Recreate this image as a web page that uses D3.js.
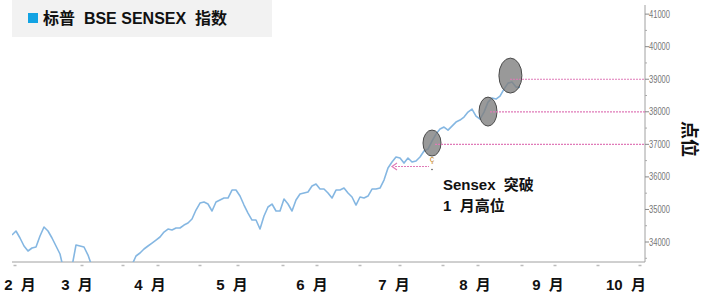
<!DOCTYPE html>
<html><head><meta charset="utf-8">
<script src="https://cdn.jsdelivr.net/npm/d3@7"></script>
<style>
body{margin:0;background:#fff;}
svg{display:block;font-family:"Liberation Sans",Arial,"Noto Sans CJK SC",sans-serif;}
text{white-space:pre;}
</style></head>
<body>
<svg id="c" width="710" height="292"></svg>
<script>
// ---- data ----
const title = "标普  BSE SENSEX  指数";
// Sensex daily close (index = trading-day step)
const sensex = [34215,34338,34123,33877,33724,33816,33847,34184,34460,34338,
34123,33877,33632,33100,33000,33250,33908,33877,33847,33600,
33250,33050,32950,33120,32900,32650,33050,33180,32980,33260,
33300,33570,33662,33785,33877,33969,34061,34154,34307,34399,
34368,34430,34430,34522,34583,34706,34982,35197,35228,35167,
34952,35228,35289,35350,35350,35596,35596,35412,35136,34890,
34675,34675,34399,34798,35075,35167,34952,34952,35320,35167,
34952,35289,35474,35504,35535,35719,35781,35627,35627,35504,
35351,35596,35596,35658,35504,35382,35136,35382,35351,35412,
35627,35627,35658,35903,36272,36456,36610,36579,36425,36579,
36456,36487,36610,36794,36855,37101,37316,37469,37531,37438,
37561,37684,37745,37838,37991,38083,37868,37776,37991,38298,
38421,38390,38482,38697,38881,38912,38759,38759];
const monthLabels = ["2  月","3  月","4  月","5  月","6  月","7  月","8  月","9  月","10  月"];
const monthPos = [2,16.25,34.5,55,75,95.5,115.75,134,153.5];
const xMinorTicks = [0.75,17.5,27.75,36.5,47,56.5,67.75,76.25,87,97,107.75,116.5,127.5,135.75,146.5,157];
const yTicks = [34000,35000,36000,37000,38000,39000,40000,41000];
const yMinor = [33500,34500,35500,36500,37500,38500,39500,40500];
// highlighted breakouts: [index, value] of circle centre, and level line
const circles = [[105,37040],[119,38006],[124.6,39112]];
const levels = [[105.75,37000],[119.5,38000],[124.5,39000]];
const prevHigh = [[95,36320],[105,36320]];
const annotation = ["Sensex  突破","1  月高位"];

// ---- scales ----
const svg = d3.select("#c");
const x = d3.scaleLinear().domain([0,158.25]).range([12,645]);
const y = d3.scaleLinear().domain([33386,41280]).range([262,5]);

// title box
svg.append("rect").attr("x",12).attr("y",0).attr("width",260).attr("height",37).attr("fill","#f2f2f2");
svg.append("rect").attr("x",28).attr("y",13).attr("width",10).attr("height",10).attr("fill","#12a3e3");
svg.append("text").attr("x",43).attr("y",24).attr("font-size",16).attr("font-weight","bold").attr("fill","#111").text(title);

// clip
svg.append("clipPath").attr("id","clip").append("rect").attr("x",12).attr("y",0).attr("width",633).attr("height",262);

// x axis line
svg.append("line").attr("x1",12).attr("x2",645).attr("y1",262).attr("y2",262).attr("stroke","#a0a0a0").attr("stroke-width",1);
svg.selectAll(".xm").data(xMinorTicks).enter().append("line")
  .attr("x1",d=>x(d)-1.5).attr("x2",d=>x(d)+1.5).attr("y1",265.5).attr("y2",265.5)
  .attr("stroke","#bbb").attr("stroke-width",1.5);

// y axis
svg.append("line").attr("x1",645).attr("x2",645).attr("y1",5).attr("y2",262).attr("stroke","#a0a0a0");
svg.selectAll(".yt").data(yTicks).enter().append("line")
  .attr("x1",645).attr("x2",649).attr("y1",d=>y(d)).attr("y2",d=>y(d)).attr("stroke","#888");
svg.selectAll(".ym").data(yMinor).enter().append("line")
  .attr("x1",645).attr("x2",647).attr("y1",d=>y(d)).attr("y2",d=>y(d)).attr("stroke","#aaa");
svg.selectAll(".yl").data(yTicks).enter().append("text")
  .attr("x",649).attr("y",d=>y(d)+3.5).attr("font-size",10.5).attr("fill","#777")
  .attr("textLength",21).attr("lengthAdjust","spacingAndGlyphs").text(d=>d);

// y axis title rotated
svg.append("text").attr("transform","translate(683,139) rotate(90)")
  .attr("text-anchor","middle").attr("font-size",18).attr("font-weight","bold").attr("fill","#111").text("点位");

// month labels
svg.selectAll(".ml").data(monthLabels).enter().append("text")
  .attr("x",(d,i)=>x(monthPos[i])).attr("y",290).attr("text-anchor","middle")
  .attr("font-size",15).attr("font-weight","bold").attr("fill","#111").text(d=>d);

// line
const line = d3.line().x((d,i)=>x(i)).y(d=>y(d));
svg.append("path").datum(sensex).attr("clip-path","url(#clip)")
  .attr("d",line).attr("fill","none").attr("stroke","#85b7e2").attr("stroke-width",1.6).attr("stroke-linejoin","round");

// ellipses
const rxs=[9,9,11.5], rys=[13,14.5,17.5];
svg.selectAll(".el").data(circles).enter().append("ellipse")
  .attr("cx",d=>x(d[0])).attr("cy",d=>y(d[1])).attr("rx",(d,i)=>rxs[i]).attr("ry",(d,i)=>rys[i])
  .attr("fill","#808080").attr("fill-opacity",0.8).attr("stroke","#4a4a4a").attr("stroke-width",1);

// level lines
svg.selectAll(".lv").data(levels).enter().append("line")
  .attr("x1",d=>x(d[0])).attr("x2",645).attr("y1",d=>y(d[1])).attr("y2",d=>y(d[1]))
  .attr("stroke","#e07ab8").attr("stroke-width",1.2).attr("stroke-dasharray","2,1");

// previous-high arrow
svg.append("line").attr("x1",x(prevHigh[0][0])+3).attr("x2",x(prevHigh[1][0])-3)
  .attr("y1",y(prevHigh[0][1])).attr("y2",y(prevHigh[1][1]))
  .attr("stroke","#e07ab8").attr("stroke-width",1.2).attr("stroke-dasharray","2,1");
const ax=x(prevHigh[0][0]), ay=y(prevHigh[0][1]);
svg.append("path").attr("d",`M${ax+5},${ay-3.5} L${ax},${ay} L${ax+5},${ay+3.5}`)
  .attr("fill","none").attr("stroke","#e07ab8").attr("stroke-width",1.2);
// small marker
svg.append("text").attr("x",x(prevHigh[1][0])).attr("y",y(prevHigh[1][1])-4).attr("text-anchor","middle")
  .attr("font-size",9).attr("fill","#c98a2a").text("ç");
svg.append("circle").attr("cx",x(prevHigh[1][0])).attr("cy",y(prevHigh[1][1])+3).attr("r",0.8).attr("fill","#555");

// annotation text
svg.selectAll(".an").data(annotation).enter().append("text")
  .attr("x",443).attr("y",(d,i)=>190+i*21).attr("font-size",15).attr("font-weight","bold").attr("fill","#111").text(d=>d);
</script>
</body></html>
